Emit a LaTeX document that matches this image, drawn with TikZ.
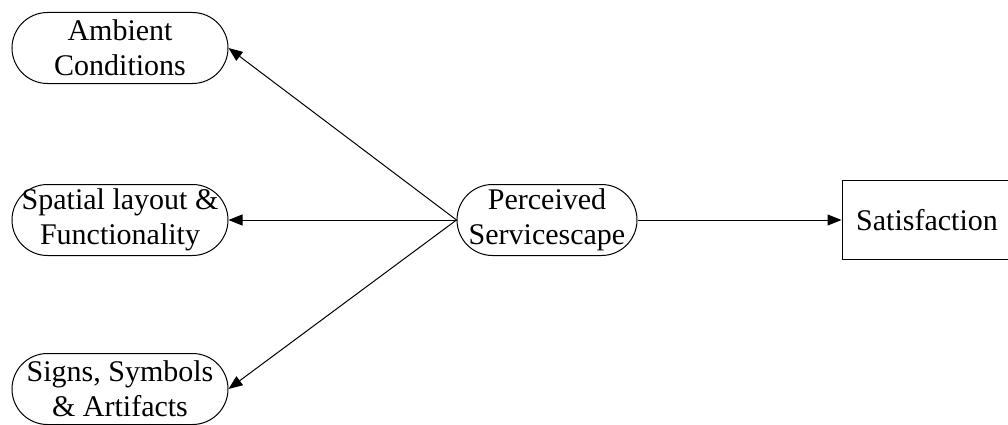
\documentclass[tikz,border=0pt]{standalone}
\usepackage{fontspec}
\setmainfont{Liberation Serif}
\usetikzlibrary{arrows.meta}
\begin{document}
\begin{tikzpicture}[x=1pt,y=1pt,line width=1pt,>={Triangle[length=14pt,width=11pt]}]
  \tikzstyle{factor}=[draw,rounded corners=35.5pt,minimum width=216pt,minimum height=71pt,inner sep=0pt,align=center,font=\fontsize{30}{35}\selectfont]
  \tikzstyle{outcome}=[draw,minimum width=170pt,minimum height=79pt,inner sep=0pt,font=\fontsize{30}{35}\selectfont]
  \useasboundingbox (0,0) rectangle (1008,424);
  \foreach \name/\y/\text in {amb/376/{Ambient\\Conditions}, spa/204/{Spatial layout \&\\Functionality}, sig/35/{Signs, Symbols\\\& Artifacts}}
    \node[factor] (\name) at (120,\y) {\text};
  \node[factor,minimum width=180pt] (ps) at (547,204) {Perceived\\Servicescape};
  \node[outcome] (sat) at (927,204) {Satisfaction};
  \foreach \to in {amb,spa,sig}
    { \draw[->] (ps.west) -- (\to.east); }
  \draw[->] (ps.east) -- (sat.west);
\end{tikzpicture}
\end{document}
